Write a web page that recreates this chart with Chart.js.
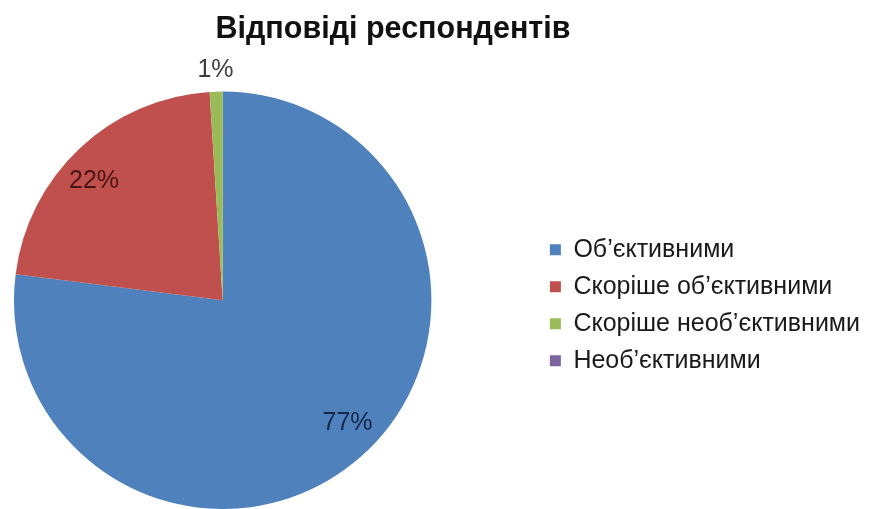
<!DOCTYPE html>
<html lang="uk">
<head>
<meta charset="utf-8">
<title>Відповіді респондентів</title>
<script src="https://cdn.jsdelivr.net/npm/chart.js@4.4.1/dist/chart.umd.min.js"></script>
<style>
  html, body { margin: 0; padding: 0; background: #fff; overflow: hidden; }
  #wrap { width: 870px; height: 509px; }
</style>
</head>
<body>
<div id="wrap"><canvas id="answers-chart"></canvas></div>
<script>
// --- data ---
const chartTitle = 'Відповіді респондентів';
const answerLabels = ['Об’єктивними', 'Скоріше об’єктивними', 'Скоріше необ’єктивними', 'Необ’єктивними'];
const answerShares = [77, 22, 1, 0]; // per cent of respondents

// --- styles ---
const sliceColors = ['#4f81bd', '#c0504d', '#9bbb59', '#8064a2'];
const labelColors = ['#14264a', '#4a1414', '#404040', '#404040'];
const fontFamily = '"Liberation Sans", Arial, sans-serif';
const pieLeft = 14;       // left edge of the pie
const titleCenterX = 393; // title is not centred on the canvas in the original
const legendDrop = 10;    // push legend a bit lower
const labelTurn = -0.07;  // Excel puts the inside labels slightly off the mid angle

// percentage labels on the slices (small ones go outside)
const sliceLabels = {
  id: 'sliceLabels',
  afterDatasetsDraw(chart) {
    const ctx = chart.ctx;
    const meta = chart.getDatasetMeta(0);
    const values = chart.data.datasets[0].data;
    ctx.save();
    ctx.font = '25px ' + fontFamily;
    ctx.textAlign = 'center';
    ctx.textBaseline = 'middle';
    meta.data.forEach((arc, i) => {
      const v = values[i];
      if (!v) return;
      const p = arc.getProps(['x', 'y', 'startAngle', 'endAngle', 'outerRadius'], true);
      const outside = v < 5;
      const mid = (p.startAngle + p.endAngle) / 2 + (outside ? 0 : labelTurn);
      const r = outside ? p.outerRadius + 22 : p.outerRadius * 0.84;
      ctx.fillStyle = labelColors[i];
      ctx.fillText(v + '%', p.x + Math.cos(mid) * r, p.y + Math.sin(mid) * r);
    });
    ctx.restore();
  }
};

// pie sits on the left, legend far to the right
const placePie = {
  id: 'placePie',
  afterLayout(chart) {
    const a = chart.chartArea;
    const size = a.bottom - a.top;
    a.left = pieLeft;
    a.right = pieLeft + size;
    a.width = size;
    chart.titleBlock.left = 0;
    chart.titleBlock.right = titleCenterX * 2;
    chart.legend.top += legendDrop;
  }
};

const ctx = document.getElementById('answers-chart').getContext('2d');
new Chart(ctx, {
  type: 'pie',
  data: {
    labels: answerLabels,
    datasets: [{
      data: answerShares,
      backgroundColor: sliceColors,
      borderWidth: 0
    }]
  },
  options: {
    responsive: true,
    maintainAspectRatio: false,
    animation: false,
    layout: { padding: { top: 0, right: 0, bottom: 0, left: 0 } },
    plugins: {
      title: {
        display: true,
        text: chartTitle,
        color: '#111',
        font: { family: fontFamily, size: 30.5, weight: 'bold' },
        padding: { top: 11, bottom: 44 }
      },
      legend: {
        position: 'right',
        fullSize: false,
        labels: {
          color: '#1a1a1a',
          font: { family: fontFamily, size: 25 },
          boxWidth: 11,
          boxHeight: 11,
          padding: 12
        }
      },
      tooltip: { enabled: false }
    }
  },
  plugins: [sliceLabels, placePie]
});
</script>
</body>
</html>
